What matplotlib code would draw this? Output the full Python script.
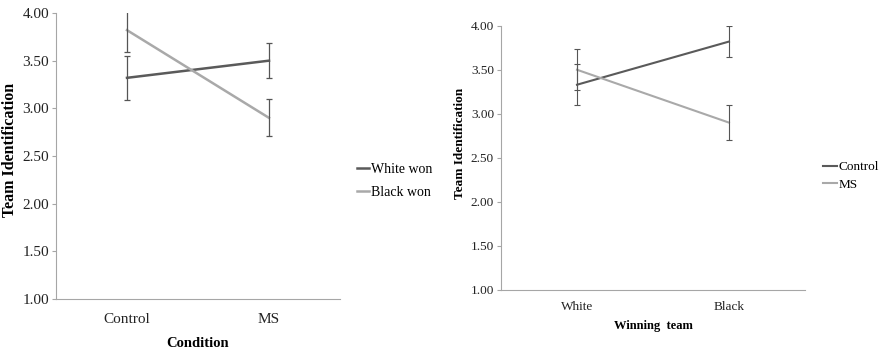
import matplotlib
matplotlib.use('Agg')
import matplotlib.pyplot as plt

plt.rcParams['font.family'] = 'Liberation Serif'

# left panel: x = condition, lines = winning team
cond_labels = ['Control', 'MS']
white_won = [3.32, 3.50]
white_won_err = [0.23, 0.185]
black_won = [3.82, 2.90]
black_won_err = [0.23, 0.195]

# right panel: x = winning team, lines = condition
team_labels = ['White', 'Black']
control = [3.33, 3.82]
control_err = [0.23, 0.18]
ms = [3.50, 2.90]
ms_err = [0.23, 0.195]

yticks = [1.00, 1.50, 2.00, 2.50, 3.00, 3.50, 4.00]

dark = '#5a5a5a'
light = '#a9a9a9'
spine_c = '#a6a6a6'

fig = plt.figure(figsize=(8.81, 3.5), dpi=100)
ax1 = fig.add_axes([56/881, 1-299/350, 284/881, 286/350])
ax2 = fig.add_axes([501/881, 1-290/350, 304/881, 264.3/350])


def style(ax, fs):
    ax.set_xlim(-0.5, 1.5)
    ax.set_ylim(1, 4)
    ax.set_yticks(yticks)
    ax.set_yticklabels(['%.2f' % v for v in yticks], fontsize=fs, color='#222222')
    for s in ['top', 'right']:
        ax.spines[s].set_visible(False)
    for s in ['left', 'bottom']:
        ax.spines[s].set_color(spine_c)
        ax.spines[s].set_linewidth(0.8)
    ax.tick_params(axis='y', length=3, width=0.8, color=spine_c, pad=2)


x = [0, 1]
ax1.plot(x, white_won, color=dark, lw=1.8, label='White won')
ax1.plot(x, black_won, color=light, lw=1.8, label='Black won')
ax1.errorbar(x, white_won, yerr=white_won_err, fmt='none', ecolor='#555555', elinewidth=0.9, capsize=2.5, capthick=0.9)
ax1.errorbar(x, black_won, yerr=black_won_err, fmt='none', ecolor='#555555', elinewidth=0.9, capsize=2.5, capthick=0.9)
style(ax1, 11)
ax1.tick_params(axis='x', length=0, pad=10)
ax1.set_xticks(x)
ax1.set_xticklabels(cond_labels, fontsize=11, color='#222222')
ax1.set_xlabel('Condition', fontsize=10.5, fontweight='bold', labelpad=8)
ax1.set_ylabel('Team Identification', fontsize=11.5, fontweight='bold')
ax1.yaxis.set_label_coords(-0.135, 0.52)
ax1.legend(loc='center left', bbox_to_anchor=(350/881, 1-181/350), bbox_transform=fig.transFigure,
           frameon=False, fontsize=10, handlelength=0.9, handletextpad=0.1, borderpad=0, labelspacing=0.7)

ax2.plot(x, control, color=dark, lw=1.5, label='Control')
ax2.plot(x, ms, color=light, lw=1.5, label='MS')
ax2.errorbar(x, control, yerr=control_err, fmt='none', ecolor='#555555', elinewidth=0.8, capsize=2.2, capthick=0.8)
ax2.errorbar(x, ms, yerr=ms_err, fmt='none', ecolor='#555555', elinewidth=0.8, capsize=2.2, capthick=0.8)
style(ax2, 9.5)
ax2.tick_params(axis='x', length=0, pad=8)
ax2.set_xticks(x)
ax2.set_xticklabels(team_labels, fontsize=9.5, color='#222222')
ax2.set_xlabel('Winning  team', fontsize=9, fontweight='bold', labelpad=5)
ax2.set_ylabel('Team Identification', fontsize=9.5, fontweight='bold')
ax2.yaxis.set_label_coords(-0.115, 0.555)
ax2.legend(loc='center left', bbox_to_anchor=(816/881, 1-176/350), bbox_transform=fig.transFigure,
           frameon=False, fontsize=9.5, handlelength=1.1, handletextpad=0.1, borderpad=0, labelspacing=0.4)

fig.savefig('out.png', dpi=100)
